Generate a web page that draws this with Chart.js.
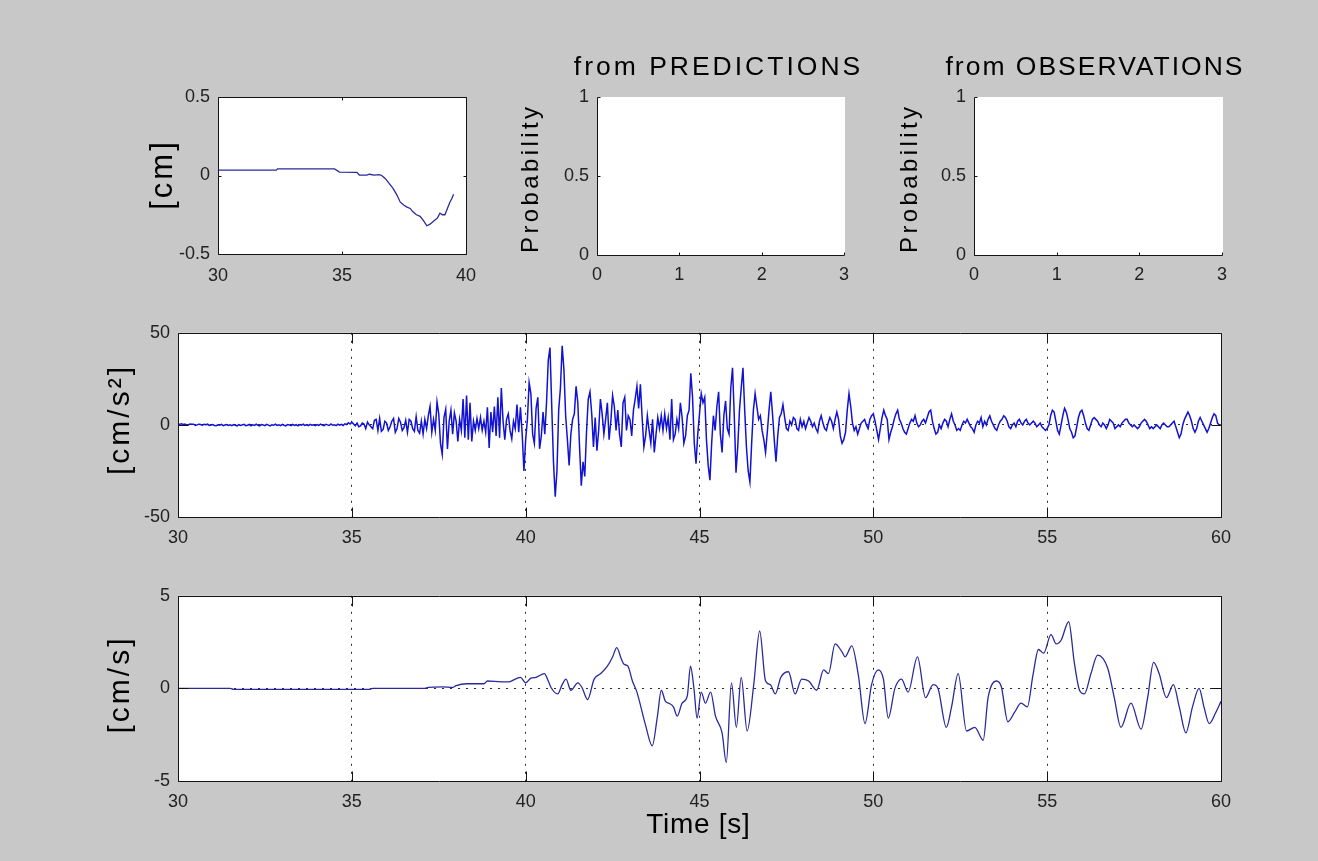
<!DOCTYPE html>
<html>
<head>
<meta charset="utf-8">
<title>Ground motion record</title>
<script src="https://cdn.jsdelivr.net/npm/chart.js@4.4.1/dist/chart.umd.min.js"></script>
<style>
  html, body { margin: 0; padding: 0; width: 1318px; height: 861px; overflow: hidden; background: #c8c8c8; }
  canvas.panel { position: absolute; }
</style>
</head>
<body>
<canvas id="dispPanel" class="panel"></canvas>
<canvas id="predPanel" class="panel"></canvas>
<canvas id="obsPanel" class="panel"></canvas>
<canvas id="accPanel" class="panel"></canvas>
<canvas id="velPanel" class="panel"></canvas>
<script>
// ---------------- data ----------------
// displacement [cm] (first seconds of the record)
const dispTime  = [30.0, 32.35, 32.4, 34.7, 34.9, 35.6, 35.7, 36.0, 36.1, 36.3,
                   36.5, 36.6, 36.75, 36.9, 37.05, 37.2, 37.35, 37.5, 37.6, 37.75,
                   37.85, 38.0, 38.15, 38.3, 38.42, 38.55, 38.7, 38.85, 38.95, 39.05,
                   39.15, 39.25, 39.35, 39.42, 39.5];
const dispValue = [0.034, 0.034, 0.042, 0.042, 0.022, 0.02, 0.003, 0.003, 0.008, 0.003,
                   0.006, 0.0, -0.02, -0.05, -0.08, -0.12, -0.17, -0.19, -0.2, -0.21,
                   -0.23, -0.25, -0.26, -0.29, -0.32, -0.31, -0.29, -0.27, -0.24, -0.25,
                   -0.25, -0.21, -0.17, -0.15, -0.12];

// acceleration [cm/s^2], sampled every 0.05 s from 30 s to 60 s
const accStart = 30;
const accStep = 0.05;
const accValue = [
  0.5,0.3,0.6,0.2,0.4,-0.2,0.1,0.5,0.3,0.4,-0.3,0,0.4,0.2,-0.2,0.3,0.1,0.4,-0.3,-0.1,
  0.2,-0.3,-0.4,0.1,-0.2,0.3,-0.4,-0.1,0.2,-0.3,0,-0.4,0.2,-0.2,-0.5,0.1,-0.3,0,0.3,-0.4,
  -0.2,0.3,-0.5,0,-0.3,0.4,-0.2,-0.5,0.2,0,-0.4,0.3,-0.1,-0.5,0.1,-0.2,0.4,-0.3,0,-0.4,
  0.3,-0.2,-0.5,0.2,0,-0.4,0.3,-0.3,0.1,-0.5,0.2,-0.1,0.4,-0.3,0,-0.4,0.3,-0.2,0.1,-0.4,
  0.2,-0.3,0.4,-0.1,-0.4,0.3,0,-0.3,0.5,-0.2,0.1,-0.4,0.4,-0.1,0.3,-0.3,0.6,0.2,1.2,0.5,
  1.5,0.5,-0.5,1,-1,-0.5,1,0.5,-2,1.5,0,-1,-2,2.5,3,-3,3.5,-3.5,-2.5,2,
  1,-3,-1,2,3.5,-4,-2,3.5,1.5,-3,-1.5,2.5,-4,3,2,-2,-3.5,4.5,-3,-4.5,
  2,-5,3,-2,5,10,-4,3,-3,12.5,6,-10,-16,4,8.5,-13,2,8,-5,6.5,
  2,-9,3,-3,14,-7,16,-8,12,-9,2,-3,3.5,-2,4,-3,2,-4,9.5,-12.5,
  7,-4,10,-6,15,-7,20,2,-8,3,6,-3,-7.5,2,-2,11,-4,9.5,-5,-25,
  -8,3,23,17,-5,-10,9,15,-13,-6,7,-5,12,35,42,10,-20,-39,-25,8,
  20,43,30,5,-8,-22,-5,3,6,21,12,-12,-33,-20,-28,-4,14,18,6,-12,
  4,-14,-3,14,6,-5,3,12,-8,2,16,10,-3,8,-5,-12,12,15,-3,5,
  3,-6,8,14,21,9,22,4,-12,-6,5,-3,-10,3,-15,-5,4,-2,5,-3,
  6,-2,4,-8,14,-8,-5,3,-2,12,4,-10,-6,5,8,28,15,-10,-21,-5,
  6,17,12,15,-8,-22,-30,-10,5,-3,10,18,-5,-15,5,13,-2,-5,20,31,
  5,-26,-12,8,20,31,8,-12,-25,-31,-10,8,17,10,3,5,-3,-8,-15,-4,
  8,18,6,-8,-20,-6,4,6,11,4,-2,-3,2,0,4,3,-2,-3,3,-1,
  2,-2,1,4,2,-1,1,-2,-4,2,5,1,-2,-3,1,4,2,-2,3,7,
  3,-6,-10,-8,-4,8,17,10,1,-3,-1,-5,-2,1,2,3,0,-2,3,5,
  6,2,-3,-8,-2,4,8,5,3,-8,-4,-1,3,6,8,3,1,-2,-4,-5,
  -2,1,3,2,5,1,-1,0,2,3,1,4,7,8,2,-2,-5,-4,0,-2,
  1,3,2,-1,3,6,2,0,-3,-2,-3,0,2,1,3,1,-1,-2,-4,0,
  2,1,4,-1,2,0,3,5,2,0,-2,-3,0,2,3,5,4,2,-1,-2,
  0,1,-1,2,3,1,0,2,3,1,0,1,2,1,-1,0,1,-1,-2,-3,
  -2,0,5,8,7,2,-3,-5,0,5,9,7,3,-2,-4,-7,-6,-1,4,7,
  8,5,1,-2,-3,0,3,4,3,2,0,-1,1,0,-2,0,3,2,1,-2,
  -1,0,-1,1,2,3,3,1,0,-1,0,-1,-2,-1,1,2,3,2,0,-2,
  -1,-2,-1,0,-1,-2,0,1,0,-1,-1,0,1,2,-1,-4,-7,-5,0,3,
  5,7,5,2,-2,-4,-2,2,4,2,0,-2,-4,-2,1,4,6,5,1,0,
  0
];

// velocity [cm/s]
const velTime = [
  30.0, 31.5, 31.6, 35.5, 35.6, 37.1, 37.2, 37.6, 37.9, 38.0,
  38.3, 38.8, 38.9, 39.3, 39.5, 39.7, 39.85, 40.0, 40.15, 40.3,
  40.54, 40.65, 40.73, 40.92, 41.05, 41.16, 41.3, 41.5, 41.62, 41.78,
  41.97, 42.16, 42.35, 42.5, 42.62, 42.75, 42.83, 42.94, 43.07, 43.2,
  43.45, 43.64, 43.79, 43.9, 44.02, 44.12, 44.25, 44.36, 44.5, 44.65,
  44.74, 44.84, 44.93, 45.05, 45.17, 45.32, 45.46, 45.65, 45.77, 45.92,
  46.06, 46.2, 46.37, 46.56, 46.73, 46.9, 47.04, 47.18, 47.34, 47.56,
  47.75, 47.94, 48.14, 48.37, 48.57, 48.71, 48.9, 49.09, 49.19, 49.38,
  49.57, 49.76, 49.95, 50.14, 50.29, 50.43, 50.62, 50.81, 51.0, 51.27,
  51.5, 51.72, 51.86, 52.1, 52.25, 52.44, 52.68, 52.92, 53.16, 53.3,
  53.54, 53.68, 53.87, 54.06, 54.25, 54.43, 54.59, 54.75, 54.9, 55.11,
  55.26, 55.4, 55.62, 55.78, 55.93, 56.07, 56.26, 56.45, 56.74, 56.93,
  57.12, 57.41, 57.7, 57.89, 58.06, 58.22, 58.43, 58.63, 58.8, 58.99,
  59.18, 59.37, 59.51, 59.66, 59.85, 60.0
];
const velValue = [
  0, 0, -0.05, -0.05, 0, 0, 0.05, 0.08, 0.05, 0.15,
  0.25, 0.25, 0.4, 0.35, 0.35, 0.5, 0.6, 0.3, 0.55, 0.6,
  0.8, 0.4, 0.05, -0.3, 0.2, 0.5, -0.1, 0.3, 0.05, -0.6,
  0.5, 0.8, 1.2, 1.7, 2.2, 1.6, 1.3, 1.2, 0.4, -0.2,
  -2.0, -3.1, -1.5, -0.1, -0.7, -0.8, -1.0, -1.5, -0.8, -0.4,
  1.2, 0.0, -1.6, -0.2, -0.8, -0.2, -1.5, -2.4, -4.0, 0.3,
  -2.1, 0.6, -2.3, 0.2, 3.1, 0.4, 0.2, -0.3, 0.6, 0.9,
  -0.3, 0.5, 0.4, -0.1, 1.0, 0.8, 2.4, 2.0, 1.7, 2.3,
  0.7, -1.9, 0.2, 1.0, 0.5, -1.6, 0.0, 0.5, -0.2, 1.7,
  -0.5, 0.2, 0.0, -2.1, -1.0, 0.8, -2.3, -2.1, -2.8, -0.5,
  0.4, 0.1, -1.8, -1.3, -0.8, -1.0, 0.7, 2.1, 1.9, 2.9,
  2.4, 2.6, 3.6, 1.4, -0.1, -0.3, 0.8, 1.8, 1.1, -0.5,
  -2.1, -0.8, -2.2, -0.5, 1.4, 0.8, -0.5, 0.2, -1.0, -2.4,
  -1.0, 0.0, -1.0, -1.9, -1.3, -0.7
];

// axis ticks
const timeTicks = [30, 35, 40, 45, 50, 55, 60];
const dispXTicks = [30, 35, 40];
const dispYTicks = [-0.5, 0, 0.5];
const accYTicks = [-50, 0, 50];
const velYTicks = [-5, 0, 5];
const probXTicks = [0, 1, 2, 3];
const probYTicks = [0, 0.5, 1];

// ---------------- drawing ----------------
const FONT = "'Liberation Sans', Arial, Helvetica, sans-serif";
const INK = '#141414';

function pairs(xs, ys) { return xs.map((x, i) => ({ x: x, y: ys[i] })); }

// white plot face, black frame, inward tick marks and the free text of a panel
function framePlugin(spec, origin) {
  return {
    id: 'matlabFrame',
    beforeDraw(chart) {
      const { ctx, chartArea: a } = chart;
      ctx.save();
      ctx.fillStyle = '#ffffff';
      ctx.fillRect(a.left, a.top, a.right - a.left + 1, a.bottom - a.top + 1);
      ctx.restore();
    },
    afterDraw(chart) {
      const { ctx, chartArea: a, scales } = chart;
      const L = Math.round(a.left) + 0.5, R = Math.round(a.right) + 0.5;
      const T = Math.round(a.top) + 0.5, B = Math.round(a.bottom) + 0.5;
      const len = spec.tickLen;
      ctx.save();
      ctx.strokeStyle = INK;
      ctx.lineWidth = 1;
      ctx.beginPath();
      if (spec.box) {
        ctx.rect(L, T, R - L, B - T);
      } else {
        ctx.moveTo(L, T); ctx.lineTo(L, B); ctx.lineTo(R, B);
      }
      scales.x.ticks.forEach(t => {
        const px = Math.round(scales.x.getPixelForValue(t.value)) + 0.5;
        ctx.moveTo(px, B); ctx.lineTo(px, B - len);
        if (spec.box) { ctx.moveTo(px, T); ctx.lineTo(px, T + len); }
      });
      scales.y.ticks.forEach(t => {
        const py = Math.round(scales.y.getPixelForValue(t.value)) + 0.5;
        ctx.moveTo(L, py); ctx.lineTo(L + len, py);
        if (spec.box) { ctx.moveTo(R, py); ctx.lineTo(R - len, py); }
      });
      ctx.stroke();
      ctx.restore();

      (spec.texts || []).forEach(t => {
        ctx.save();
        ctx.font = t.size + 'px ' + FONT;
        ctx.fillStyle = '#000000';
        ctx.letterSpacing = (t.spacing || 0) + 'px';
        ctx.textAlign = 'center';
        ctx.textBaseline = t.baseline || 'middle';
        ctx.translate(t.x - origin.x, t.y - origin.y);
        if (t.rot) ctx.rotate(t.rot * Math.PI / 180);
        ctx.fillText(t.text, (t.spacing || 0) / 2, 0);
        ctx.restore();
      });
    }
  };
}

function axis(min, max, ticks, size, isX, grid, pad) {
  return {
    type: 'linear',
    position: isX ? 'bottom' : 'left',
    min: min,
    max: max,
    afterFit: s => { if (isX) { s.height = size; } else { s.width = size; } },
    afterBuildTicks: s => { s.ticks = ticks.map(v => ({ value: v })); },
    ticks: {
      autoSkip: false,
      maxRotation: 0,
      padding: pad,
      color: '#222222',
      font: { family: FONT, size: 18 },
      callback: v => String(Math.round(v * 100) / 100)
    },
    grid: {
      display: grid,
      drawTicks: false,
      lineWidth: 1,
      color: c => (c.tick && (c.tick.value === min || c.tick.value === max)) ? 'rgba(0,0,0,0)' : '#2a2a2a'
    },
    border: { display: false, dash: [2, 6] }
  };
}

function panel(id, area, pad, spec, datasets, xr, yr) {
  const cv = document.getElementById(id);
  const origin = { x: area.l - pad.l, y: area.t - pad.t };
  const W = area.r + pad.r - origin.x;
  const H = area.b + pad.b - origin.y;
  cv.style.left = origin.x + 'px';
  cv.style.top = origin.y + 'px';
  cv.width = W; cv.height = H;
  cv.style.width = W + 'px'; cv.style.height = H + 'px';
  return new Chart(cv.getContext('2d'), {
    type: 'line',
    data: { datasets: datasets },
    options: {
      responsive: false,
      maintainAspectRatio: false,
      animation: false,
      events: [],
      devicePixelRatio: 1,
      layout: { padding: { left: 0, top: pad.t, right: pad.r, bottom: 0 } },
      plugins: { legend: { display: false }, tooltip: { enabled: false }, title: { display: false } },
      elements: { point: { radius: 0 } },
      scales: {
        x: axis(xr[0], xr[1], xr[2], pad.b, true, spec.grid, xr[3]),
        y: axis(yr[0], yr[1], yr[2], pad.l, false, spec.grid, 8)
      }
    },
    plugins: [framePlugin(spec, origin)]
  });
}

function trace(points, color, width, smooth) {
  return {
    data: points,
    borderColor: color,
    borderWidth: width,
    pointRadius: 0,
    tension: 0,
    cubicInterpolationMode: smooth ? 'monotone' : 'default',
    fill: false
  };
}

const accTime = accValue.map((_, i) => +(accStart + i * accStep).toFixed(2));

// top-left: displacement
panel('dispPanel', { l: 218, t: 97, r: 466, b: 254 }, { l: 80, t: 20, r: 25, b: 45 },
  { box: true, grid: false, tickLen: 3,
    texts: [{ text: '[cm]', x: 163, y: 176, rot: -90, size: 31, spacing: 3 }] },
  [trace(pairs(dispTime, dispValue), '#2a2a9c', 1.3, false)],
  [30, 40, dispXTicks, 11], [-0.5, 0.5, dispYTicks]);

// top-middle: probability from predictions (empty axes)
panel('predPanel', { l: 597, t: 97, r: 844, b: 255 }, { l: 85, t: 55, r: 30, b: 45 },
  { box: false, grid: false, tickLen: 3,
    texts: [
      { text: 'from PREDICTIONS', x: 717, y: 75, size: 26.5, spacing: 3, baseline: 'alphabetic' },
      { text: 'Probability', x: 531, y: 180, rot: -90, size: 24, spacing: 3.4 }
    ] },
  [], [0, 3, probXTicks, 9], [0, 1, probYTicks]);

// top-right: probability from observations (empty axes)
panel('obsPanel', { l: 974, t: 97, r: 1222, b: 255 }, { l: 85, t: 55, r: 45, b: 45 },
  { box: false, grid: false, tickLen: 3,
    texts: [
      { text: 'from OBSERVATIONS', x: 1094, y: 75, size: 26.5, spacing: 2, baseline: 'alphabetic' },
      { text: 'Probability', x: 910, y: 180, rot: -90, size: 24, spacing: 3.4 }
    ] },
  [], [0, 3, probXTicks, 9], [0, 1, probYTicks]);

// middle: acceleration
panel('accPanel', { l: 178, t: 329, r: 1221, b: 517 }, { l: 85, t: 15, r: 40, b: 35 },
  { box: true, grid: true, tickLen: 10,
    texts: [{ text: '[cm/s\u00B2]', x: 121, y: 421, rot: -90, size: 30, spacing: 3 }] },
  [trace(pairs(accTime, accValue), '#1212d2', 1.5, false)],
  [30, 60, timeTicks, 10], [-50, 50, accYTicks]);

// bottom: velocity
panel('velPanel', { l: 178, t: 592, r: 1221, b: 781 }, { l: 85, t: 15, r: 40, b: 70 },
  { box: true, grid: true, tickLen: 10,
    texts: [
      { text: '[cm/s]', x: 121, y: 686, rot: -90, size: 30, spacing: 3 },
      { text: 'Time [s]', x: 698, y: 833, size: 28, spacing: 0.7, baseline: 'alphabetic' }
    ] },
  [trace(pairs(velTime, velValue), '#2a2a9c', 1.3, true)],
  [30, 60, timeTicks, 10], [-5, 5, velYTicks]);
</script>
</body>
</html>
